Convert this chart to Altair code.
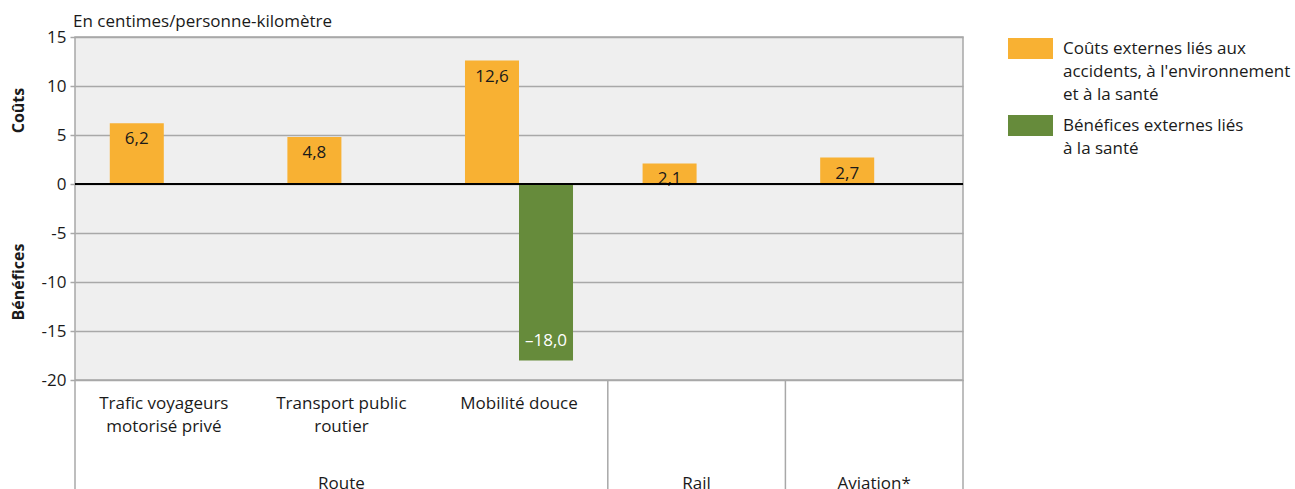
import json
import altair as alt
import pandas as pd

# Categories along the x axis (route, rail, aviation)
CATEGORIES = [
    "Trafic voyageurs motorisé privé",
    "Transport public routier",
    "Mobilité douce",
    "Rail",
    "Aviation",
]
CATEGORY_LINES = [
    ["Trafic voyageurs", "motorisé privé"],
    ["Transport public", "routier"],
    ["Mobilité douce"],
    [""],
    [""],
]

SERIES = [
    "Coûts externes liés aux accidents, à l'environnement et à la santé",
    "Bénéfices externes liés à la santé",
]
SERIES_LINES = [
    ["Coûts externes liés aux", "accidents, à l'environnement", "et à la santé"],
    ["Bénéfices externes liés", "à la santé"],
]
SERIES_COLORS = ["#F8B133", "#668B3B"]

# centimes per person-kilometre
COSTS = [6.2, 4.8, 12.6, 2.1, 2.7]
BENEFIT_CATEGORIES = ["Mobilité douce"]
BENEFITS = [-18.0]

# Group headers and the categories they cover
GROUPS = ["Route", "Rail", "Aviation*"]
GROUP_MEMBERS = [CATEGORIES[0:3], CATEGORIES[3:4], CATEGORIES[4:5]]

Y_MIN, Y_MAX = -20, 15
Y_TICKS = [15, 10, 5, 0, -5, -10, -15, -20]
Y_TITLES = ["Coûts", "Bénéfices"]

FONT = "Open Sans"
FS = 17
TEXT = "#1a1a1a"
GRID = "#a8a8a8"
W, H = 888, 343


def fr(v):
    s = f"{abs(v):.1f}".replace(".", ",")
    return ("–" + s) if v < 0 else s


rows = [{"cat": c, "series": SERIES[0], "value": v} for c, v in zip(CATEGORIES, COSTS)]
rows += [{"cat": c, "series": SERIES[1], "value": v} for c, v in zip(BENEFIT_CATEGORIES, BENEFITS)]
bars_df = pd.DataFrame(rows)
bars_df["label"] = bars_df["value"].map(fr)

x_scale = alt.Scale(domain=CATEGORIES, paddingInner=0, paddingOuter=0)
xo_scale = alt.Scale(domain=SERIES, paddingInner=0, paddingOuter=0.644)
y_scale = alt.Scale(domain=[Y_MIN, Y_MAX], nice=False, zero=False)

cat_lookup = json.dumps(dict(zip(CATEGORIES, CATEGORY_LINES)), ensure_ascii=False)
ser_lookup = json.dumps(dict(zip(SERIES, SERIES_LINES)), ensure_ascii=False)

x_enc = alt.X(
    "cat:N",
    scale=x_scale,
    sort=CATEGORIES,
    axis=alt.Axis(
        title=None,
        domain=False,
        ticks=False,
        grid=False,
        labelAngle=0,
        labelFont=FONT,
        labelFontSize=FS,
        labelColor=TEXT,
        labelBaseline="top",
        labelPadding=15,
        labelLineHeight=23,
        labelExpr=f"{cat_lookup}[datum.label]",
    ),
)
y_enc = alt.Y(
    "value:Q",
    scale=y_scale,
    axis=alt.Axis(
        title=None,
        values=Y_TICKS,
        labelExpr="'' + datum.value",
        labelFont=FONT,
        labelFontSize=FS,
        labelColor=TEXT,
        labelPadding=4,
        tickSize=5,
        tickColor=GRID,
        tickWidth=1.5,
        domain=False,
        grid=True,
        gridColor=GRID,
        gridWidth=1.5,
    ),
)

base = alt.Chart(bars_df)

bars = base.mark_bar().encode(
    x=x_enc,
    xOffset=alt.XOffset("series:N", scale=xo_scale, sort=SERIES),
    y=y_enc,
    y2=alt.datum(0),
    color=alt.Color(
        "series:N",
        scale=alt.Scale(domain=SERIES, range=SERIES_COLORS),
        legend=alt.Legend(
            title=None,
            orient="none",
            legendX=933,
            legendY=-11,
            symbolType="M-1,-0.467H1V0.467H-1Z",
            symbolSize=2025,
            symbolStrokeWidth=0,
            symbolOpacity=1,
            labelFont=FONT,
            labelFontSize=FS,
            labelColor=TEXT,
            labelLimit=400,
            labelOffset=10,
            labelBaseline="middle",
            rowPadding=-6,
            labelExpr=f"{ser_lookup}[datum.label]",
        ),
    ),
)

pos_labels = base.transform_filter("datum.value >= 0").mark_text(
    font=FONT, fontSize=FS, color=TEXT, baseline="alphabetic", dy=21
).encode(
    x=alt.X("cat:N", scale=x_scale, sort=CATEGORIES),
    xOffset=alt.XOffset("series:N", scale=xo_scale, sort=SERIES),
    y=alt.Y("value:Q", scale=y_scale),
    text="label:N",
)
neg_labels = base.transform_filter("datum.value < 0").mark_text(
    font=FONT, fontSize=FS, color="white", baseline="alphabetic", dy=-14
).encode(
    x=alt.X("cat:N", scale=x_scale, sort=CATEGORIES),
    xOffset=alt.XOffset("series:N", scale=xo_scale, sort=SERIES),
    y=alt.Y("value:Q", scale=y_scale),
    text="label:N",
)

zero_line = alt.Chart(pd.DataFrame({"v": [0]})).mark_rule(color="black", strokeWidth=2).encode(
    y=alt.Y("v:Q", scale=y_scale)
)

# Vertical separators below the plot between groups
sep_df = pd.DataFrame({"cat": [m[0] for m in GROUP_MEMBERS]})
sep_start = alt.Chart(sep_df).mark_rule(color=GRID, strokeWidth=1.5).encode(
    x=alt.X("cat:N", scale=x_scale, sort=CATEGORIES, bandPosition=0),
    y=alt.value(H),
    y2=alt.value(H + 120),
)
sep_end = alt.Chart(pd.DataFrame({"cat": [CATEGORIES[-1]]})).mark_rule(color=GRID, strokeWidth=1.5).encode(
    x=alt.X("cat:N", scale=x_scale, sort=CATEGORIES, bandPosition=1),
    y=alt.value(H),
    y2=alt.value(H + 120),
)

# Group headers centred under their middle category
grp_df = pd.DataFrame({"group": GROUPS, "cat": [m[len(m) // 2] for m in GROUP_MEMBERS]})
grp_text = alt.Chart(grp_df).mark_text(
    font=FONT, fontSize=FS, color=TEXT, baseline="alphabetic"
).encode(
    x=alt.X("cat:N", scale=x_scale, sort=CATEGORIES),
    y=alt.value(H + 109),
    text="group:N",
)

# Rotated titles for the positive and negative halves of the value axis
yt_df = pd.DataFrame({"t": Y_TITLES, "pos": [(Y_MAX + 0) / 2, (Y_MIN + 0) / 2]})
y_titles = alt.Chart(yt_df).mark_text(
    font=FONT, fontSize=16, fontWeight="bold", color=TEXT, angle=270, baseline="middle", align="center"
).encode(
    x=alt.value(-56),
    y=alt.Y("pos:Q", scale=y_scale),
    text="t:N",
)

unit = alt.Chart(pd.DataFrame({"t": ["En centimes/personne-kilomètre"]})).mark_text(
    font=FONT, fontSize=FS, color=TEXT, baseline="alphabetic", align="left"
).encode(x=alt.value(-2), y=alt.value(-10), text="t:N")

chart = alt.layer(
    bars, pos_labels, neg_labels, zero_line, sep_start, sep_end, grp_text, y_titles, unit
).properties(
    width=W,
    height=H,
    autosize=alt.AutoSizeParams(type="none"),
    padding={"left": 75, "top": 37, "right": 332, "bottom": 109},
    config={
        "view": {"fill": "#efefef", "stroke": GRID, "strokeWidth": 1.5},
        "style": {"guide-label": {"lineHeight": 23}},
    },
)

chart.save("out.html", embed_options={"renderer": "svg", "actions": False})
